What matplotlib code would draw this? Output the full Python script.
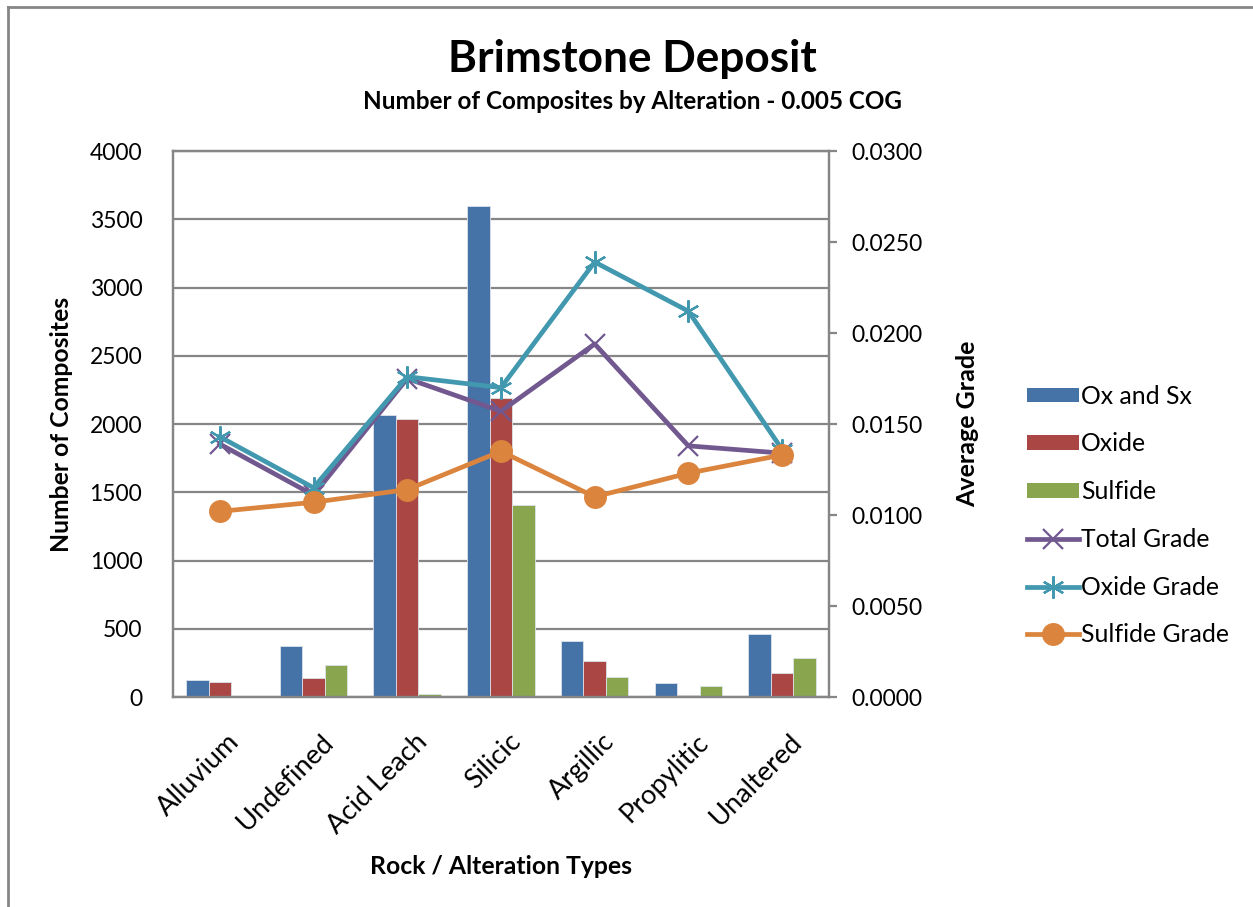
import matplotlib
matplotlib.use("Agg")
import matplotlib.pyplot as plt
import matplotlib.transforms as mtransforms
import numpy as np
from matplotlib.lines import Line2D
from matplotlib.patches import Patch

plt.rcParams["font.family"] = ["Lato", "DejaVu Sans"]

# composite counts and average grades per rock / alteration type
categories = ["Alluvium", "Undefined", "Acid Leach", "Silicic", "Argillic", "Propylitic", "Unaltered"]
ox_and_sx = [125, 374, 2068, 3600, 410, 101, 463]
oxide = [110, 139, 2036, 2192, 267, 13, 175]
sulfide = [8, 232, 23, 1406, 144, 84, 287]
total_grade = [0.0139, 0.0111, 0.0175, 0.0157, 0.0194, 0.0138, 0.0134]
oxide_grade = [0.0143, 0.0115, 0.0176, 0.0170, 0.0239, 0.0212, 0.0136]
sulfide_grade = [0.0102, 0.0107, 0.0114, 0.0135, 0.0110, 0.0123, 0.0133]

BLUE = "#4572A7"
RED = "#AA4643"
GREEN = "#89A54E"
PURPLE = "#71588F"
TEAL = "#4198AF"
ORANGE = "#DB843D"
GRID = "#868686"

fig = plt.figure(figsize=(12.53, 9.07), dpi=100)
ax = fig.add_axes([0.138, 0.2315, 0.5236, 0.602])

x = np.arange(len(categories))
w = 0.24
bar_edge = dict(edgecolor="#DDE3EA", linewidth=0.6, zorder=2)
ax.bar(x - w, ox_and_sx, w, color=BLUE, **bar_edge)
ax.bar(x, oxide, w, color=RED, **bar_edge)
ax.bar(x + w, sulfide, w, color=GREEN, **bar_edge)

ax.set_xlim(-0.5, len(categories) - 0.5)
ax.set_ylim(0, 4000)
ax.set_yticks(np.arange(0, 4001, 500))
ax.yaxis.grid(True, color=GRID, linewidth=1.6, zorder=0)
ax.set_axisbelow(True)
ax.tick_params(axis="y", length=0, labelsize=16.5, pad=22)
ax.set_xticks(x)
ax.set_xticklabels(categories, rotation=45, ha="right", rotation_mode="anchor", fontsize=19.5)
ax.tick_params(axis="x", length=0, pad=23)
shift = mtransforms.ScaledTranslation(0.07, 0, fig.dpi_scale_trans)
for label in ax.get_xticklabels():
    label.set_transform(label.get_transform() + shift)
for spine in ax.spines.values():
    spine.set_color(GRID)
    spine.set_linewidth(1.6)
ax.set_ylabel("Number of Composites", fontsize=17.8, fontweight="bold", labelpad=12)
ax.set_xlabel("Rock / Alteration Types", fontsize=17.8, fontweight="bold", labelpad=12)

ax2 = ax.twinx()
ax2.plot(x, total_grade, color=PURPLE, linewidth=3.4, marker="x", markersize=14,
         markeredgewidth=1.6, zorder=3)
ax2.plot(x, oxide_grade, color=TEAL, linewidth=3.4, marker=(6, 2, 0), markersize=16,
         markeredgewidth=1.6, zorder=3)
ax2.plot(x, sulfide_grade, color=ORANGE, linewidth=3.4, marker="o", markersize=15.5,
         zorder=3)
ax2.set_ylim(0, 0.03)
ax2.set_yticks(np.arange(0, 0.0301, 0.005))
ax2.yaxis.set_major_formatter(matplotlib.ticker.FormatStrFormatter("%.4f"))
ax2.tick_params(axis="y", length=6, width=1.6, color=GRID, labelsize=16.5, pad=10)
for spine in ax2.spines.values():
    spine.set_color(GRID)
    spine.set_linewidth(1.6)
ax2.set_ylabel("Average Grade", fontsize=18, fontweight="bold", labelpad=24)

fig.text(0.5045, 0.935, "Brimstone Deposit", ha="center", va="center",
         fontsize=31.8, fontweight="bold")
fig.text(0.505, 0.888, "Number of Composites by Alteration - 0.005 COG", ha="center",
         va="center", fontsize=17.5, fontweight="bold")

handles = [
    Patch(facecolor=BLUE, label="Ox and Sx"),
    Patch(facecolor=RED, label="Oxide"),
    Patch(facecolor=GREEN, label="Sulfide"),
    Line2D([0], [0], color=PURPLE, linewidth=3.4, marker="x", markersize=14,
           markeredgewidth=1.6, label="Total Grade"),
    Line2D([0], [0], color=TEAL, linewidth=3.4, marker=(6, 2, 0), markersize=16,
           markeredgewidth=1.6, label="Oxide Grade"),
    Line2D([0], [0], color=ORANGE, linewidth=3.4, marker="o", markersize=15.5,
           label="Sulfide Grade"),
]
fig.legend(handles=handles, loc="center left", bbox_to_anchor=(0.8198, 0.4316),
           frameon=False, fontsize=17.8, handlelength=2.1, handleheight=0.55,
           handletextpad=0.08, labelspacing=1.0, borderpad=0.0, borderaxespad=0.0)

# outer chart border (left and top edges)
fig.add_artist(Line2D([0.0066, 0.0066], [0.0, 0.9925], transform=fig.transFigure,
                      color=GRID, linewidth=2))
fig.add_artist(Line2D([0.0066, 1.0], [0.9925, 0.9925], transform=fig.transFigure,
                      color=GRID, linewidth=2))

fig.savefig("out.png", dpi=100)
